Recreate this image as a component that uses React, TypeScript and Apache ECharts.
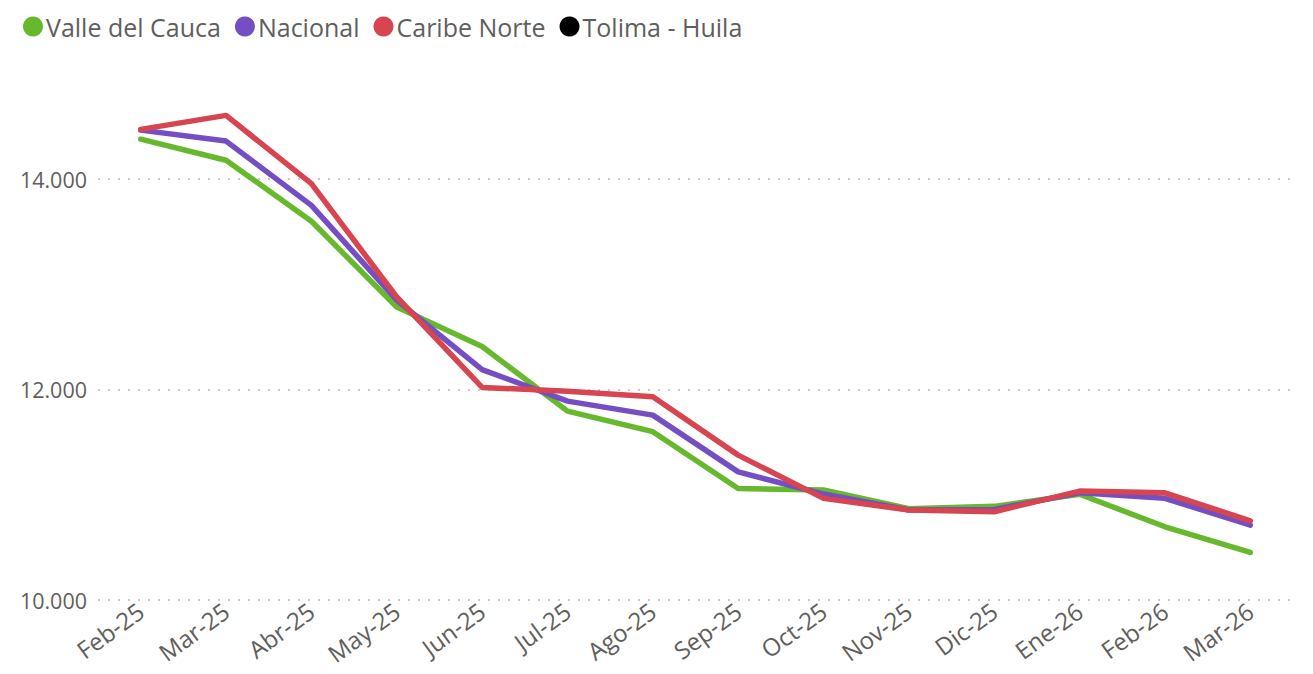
import React, { useEffect, useRef } from "react";
import * as echarts from "echarts";

const categories = ["Feb-25", "Mar-25", "Abr-25", "May-25", "Jun-25", "Jul-25", "Ago-25", "Sep-25", "Oct-25", "Nov-25", "Dic-25", "Ene-26", "Feb-26", "Mar-26"];

const valleDelCauca = [14380, 14180, 13600, 12785, 12410, 11795, 11600, 11060, 11045, 10867, 10890, 11005, 10696, 10453];
const nacional = [14466, 14362, 13751, 12850, 12190, 11890, 11757, 11218, 11007, 10855, 10861, 11019, 10966, 10712];
const caribeNorte = [14473, 14606, 13957, 12880, 12020, 11985, 11931, 11377, 10966, 10855, 10839, 11035, 11019, 10753];
const tolimaHuila: (number | null)[] = categories.map(() => null);

const seriesNames = ["Valle del Cauca", "Nacional", "Caribe Norte", "Tolima - Huila"];
const seriesColors = ["#66B82C", "#744EC2", "#D64550", "#000000"];
const seriesData = [valleDelCauca, nacional, caribeNorte, tolimaHuila];

const yMin = 10000;
const yMax = 14800;
const yInterval = 2000;

const FONT = "'Segoe UI', 'Open Sans', 'Noto Sans', sans-serif";
const TEXT_COLOR = "#605E5C";

export default function App() {
  const ref = useRef<HTMLDivElement>(null);

  useEffect(() => {
    if (!ref.current) return;
    const chart = echarts.init(ref.current, undefined, { renderer: "svg" });
    const option = {
      animation: false,
      backgroundColor: "#ffffff",
      textStyle: { fontFamily: FONT },
      legend: {
        left: 18,
        top: 9,
        icon: "circle",
        itemWidth: 20,
        itemHeight: 20,
        itemGap: 14,
        textStyle: { fontSize: 25, color: TEXT_COLOR, fontFamily: FONT, padding: [0, 0, 0, -2] },
        data: seriesNames,
      },
      grid: {
        left: 98,
        right: 20,
        top: 95,
        bottom: 74,
        containLabel: false,
      },
      xAxis: {
        type: "category",
        data: categories,
        boundaryGap: true,
        axisLine: { show: false },
        axisTick: { show: false },
        axisLabel: {
          rotate: 36,
          margin: 8,
          fontSize: 24,
          color: TEXT_COLOR,
          fontFamily: FONT,
          interval: 0,
        },
      },
      yAxis: {
        type: "value",
        min: yMin,
        max: yMax,
        interval: yInterval,
        axisLine: { show: false },
        axisTick: { show: false },
        axisLabel: {
          margin: 11,
          fontSize: 21.5,
          color: TEXT_COLOR,
          fontFamily: FONT,
          showMaxLabel: false,
          formatter: (v: number) => v.toLocaleString("de-DE"),
        },
        splitLine: {
          show: true,
          lineStyle: {
            color: ["#C8C8C8", "#C8C8C8", "#C8C8C8", "rgba(0,0,0,0)"],
            width: 2,
            type: [2, 8],
          },
        },
      },
      series: seriesNames.map((name, i) => ({
        name,
        type: "line",
        data: seriesData[i],
        color: seriesColors[i],
        symbol: "none",
        showSymbol: false,
        lineStyle: { width: 5.5, color: seriesColors[i], cap: "round", join: "round" },
        itemStyle: { color: seriesColors[i] },
        z: 10 + i,
      })),
    };
    chart.setOption(option);
    return () => chart.dispose();
  }, []);

  return (
    <div
      ref={ref}
      style={{ position: "fixed", left: 0, top: 0, width: 1313, height: 674, background: "#fff" }}
    />
  );
}
